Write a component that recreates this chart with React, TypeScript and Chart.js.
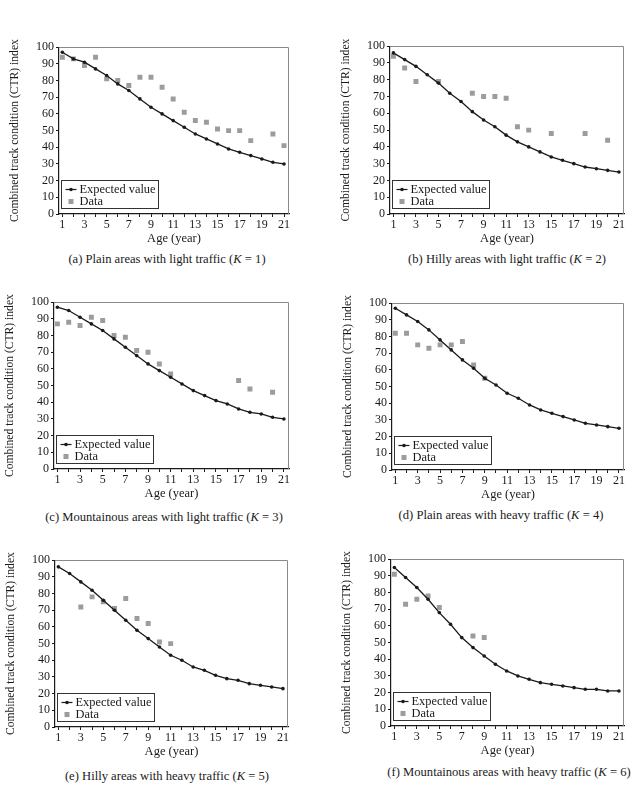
import React, { useEffect, useRef } from "react";
import { Chart, registerables } from "chart.js";

Chart.register(...registerables);

// Age axis (years) and tick labels
const AGES = [1, 2, 3, 4, 5, 6, 7, 8, 9, 10, 11, 12, 13, 14, 15, 16, 17, 18, 19, 20, 21];
const Y_TICKS = [0, 10, 20, 30, 40, 50, 60, 70, 80, 90, 100];

// (a) Plain areas with light traffic, K = 1
const expectedK1 = [97, 93, 91, 87, 83, 78, 74, 69, 64, 60, 56, 52, 48, 45, 42, 39, 37, 35, 33, 31, 30];
const observedK1 = [94, 93, 89, 94, 81, 80, 77, 82, 82, 76, 69, 61, 56, 55, 51, 50, 50, 44, null, 48, 41];

// (b) Hilly areas with light traffic, K = 2
const expectedK2 = [96, 92, 88, 83, 78, 72, 67, 61, 56, 52, 47, 43, 40, 37, 34, 32, 30, 28, 27, 26, 25];
const observedK2 = [94, 87, 79, null, 79, null, null, 72, 70, 70, 69, 52, 50, null, 48, null, null, 48, null, 44, null];

// (c) Mountainous areas with light traffic, K = 3
const expectedK3 = [97, 95, 91, 87, 83, 78, 73, 68, 63, 59, 55, 51, 47, 44, 41, 39, 36, 34, 33, 31, 30];
const observedK3 = [87, 88, 86, 91, 89, 80, 79, 71, 70, 63, 57, null, null, null, null, null, 53, 48, null, 46, null];

// (d) Plain areas with heavy traffic, K = 4
const expectedK4 = [97, 93, 89, 84, 78, 72, 66, 61, 55, 51, 46, 43, 39, 36, 34, 32, 30, 28, 27, 26, 25];
const observedK4 = [82, 82, 75, 73, 75, 75, 77, 63, 55, null, null, null, null, null, null, null, null, null, null, null, null];

// (e) Hilly areas with heavy traffic, K = 5
const expectedK5 = [96, 92, 87, 82, 76, 70, 64, 58, 53, 48, 43, 40, 36, 34, 31, 29, 28, 26, 25, 24, 23];
const observedK5 = [null, null, 72, 78, 75, 71, 77, 65, 62, 51, 50, null, null, null, null, null, null, null, null, null, null];

// (f) Mountainous areas with heavy traffic, K = 6
const expectedK6 = [95, 89, 83, 76, 68, 61, 53, 47, 42, 37, 33, 30, 28, 26, 25, 24, 23, 22, 22, 21, 21];
const observedK6 = [91, 73, 76, 78, 71, null, null, 54, 53, null, null, null, null, null, null, null, null, null, null, null, null];

const SERIES_LABELS = ["Expected value", "Data"];
const X_TITLE = "Age (year)";
const Y_TITLE = "Combined track condition (CTR) index";

type Panel = {
  tag: string;
  text: string;
  k: number;
  expected: number[];
  observed: (number | null)[];
  // plot-area rectangle on the page and caption centre
  plot: [number, number, number, number];
  cap: [number, number];
};

const PANELS: Panel[] = [
  { tag: "(a)", text: "Plain areas with light traffic", k: 1, expected: expectedK1, observed: observedK1, plot: [59, 47, 289, 214], cap: [167, 259] },
  { tag: "(b)", text: "Hilly areas with light traffic", k: 2, expected: expectedK2, observed: observedK2, plot: [390, 46, 624, 214], cap: [507, 259] },
  { tag: "(c)", text: "Mountainous areas with light traffic", k: 3, expected: expectedK3, observed: observedK3, plot: [54, 302, 289, 469], cap: [164, 517] },
  { tag: "(d)", text: "Plain areas with heavy traffic", k: 4, expected: expectedK4, observed: observedK4, plot: [392, 303, 624, 470], cap: [501, 515] },
  { tag: "(e)", text: "Hilly areas with heavy traffic", k: 5, expected: expectedK5, observed: observedK5, plot: [55, 560, 288, 727], cap: [167, 776] },
  { tag: "(f)", text: "Mountainous areas with heavy traffic", k: 6, expected: expectedK6, observed: observedK6, plot: [391, 559, 624, 726], cap: [509, 772] },
];

const FONT = "'Liberation Serif', 'Times New Roman', serif";
const INK = "#1a1a1a";
const DATA_GREY = "#9c9c9c";

const Y_AXIS_W = 51;
const X_AXIS_H = 32;
const PAD_T = 9;
const PAD_R = 9;

// Grey frame on the top/right edges plus the boxed legend in the lower-left corner
const framePlugin = {
  id: "frameAndLegend",
  afterDraw(chart: any) {
    const { ctx, chartArea } = chart;
    const { left, top, right, bottom } = chartArea;
    ctx.save();
    ctx.strokeStyle = "#8a8a8a";
    ctx.lineWidth = 1;
    ctx.beginPath();
    ctx.moveTo(left, Math.round(top) + 0.5);
    ctx.lineTo(Math.round(right) - 0.5, Math.round(top) + 0.5);
    ctx.lineTo(Math.round(right) - 0.5, bottom);
    ctx.stroke();

    const xs = chart.scales.x;
    const bw = 97;
    const bh = 28;
    const bx = Math.round(xs.getPixelForValue(1)) - 0.5;
    const by = Math.round(bottom - 6 - bh) + 0.5;
    ctx.fillStyle = "#fff";
    ctx.fillRect(bx, by, bw, bh);
    ctx.strokeStyle = "#333";
    ctx.strokeRect(bx, by, bw, bh);

    const ds = chart.data.datasets;
    const r1 = by + 9;
    const r2 = by + 21;
    ctx.strokeStyle = INK;
    ctx.lineWidth = 1.2;
    ctx.beginPath();
    ctx.moveTo(bx + 4, r1);
    ctx.lineTo(bx + 15, r1);
    ctx.stroke();
    ctx.fillStyle = INK;
    ctx.beginPath();
    ctx.arc(bx + 9.5, r1, 1.8, 0, Math.PI * 2);
    ctx.fill();
    ctx.fillStyle = DATA_GREY;
    ctx.fillRect(bx + 7, r2 - 2.5, 5, 5);

    ctx.fillStyle = INK;
    ctx.font = `12.4px ${FONT}`;
    ctx.textBaseline = "middle";
    ctx.textAlign = "left";
    ctx.fillText(ds[0].label, bx + 18, r1 + 0.5);
    ctx.fillText(ds[1].label, bx + 18, r2 + 0.5);
    ctx.restore();
  },
};

function PanelChart({ p }: { p: Panel }) {
  const ref = useRef<HTMLCanvasElement | null>(null);
  const [pl, pt, pr, pb] = p.plot;
  const w = Y_AXIS_W + (pr - pl) + PAD_R;
  const h = PAD_T + (pb - pt) + X_AXIS_H;

  useEffect(() => {
    if (!ref.current) return;
    const expectedPts = AGES.map((a, i) => ({ x: a, y: p.expected[i] }));
    const observedPts = AGES.map((a, i) => ({ x: a, y: p.observed[i] })).filter((d) => d.y !== null);
    const tickFont = { family: FONT, size: 12 };
    const chart = new Chart(ref.current, {
      type: "line",
      data: {
        datasets: [
          {
            label: SERIES_LABELS[0],
            data: expectedPts,
            borderColor: INK,
            borderWidth: 1.3,
            tension: 0,
            pointRadius: 1.8,
            pointBackgroundColor: INK,
            pointBorderWidth: 0,
            fill: false,
          },
          {
            label: SERIES_LABELS[1],
            data: observedPts as any,
            showLine: false,
            pointStyle: "rect",
            pointRadius: 3.5,
            pointBackgroundColor: DATA_GREY,
            pointBorderWidth: 0,
            backgroundColor: DATA_GREY,
            borderColor: DATA_GREY,
          },
        ],
      },
      options: {
        animation: false,
        responsive: false,
        devicePixelRatio: 1,
        layout: { padding: { top: PAD_T, right: PAD_R, left: 0, bottom: 0 } },
        plugins: { legend: { display: false }, tooltip: { enabled: false } },
        scales: {
          x: {
            type: "linear",
            min: 0.7,
            max: 21.45,
            afterBuildTicks: (s: any) => {
              s.ticks = AGES.map((v) => ({ value: v }));
            },
            afterFit: (s: any) => {
              s.height = X_AXIS_H;
            },
            ticks: {
              autoSkip: false,
              maxRotation: 0,
              padding: 1,
              color: INK,
              font: tickFont,
              callback: (v: any) => (Number(v) % 2 === 1 ? String(v) : ""),
            },
            grid: { drawOnChartArea: false, drawTicks: true, tickLength: 3, color: INK, lineWidth: 1 },
            border: { display: true, color: INK, width: 1.2 },
            title: { display: true, text: X_TITLE, color: INK, font: { family: FONT, size: 12.5 }, padding: 0 },
          },
          y: {
            type: "linear",
            min: 0,
            max: 100,
            afterBuildTicks: (s: any) => {
              s.ticks = Y_TICKS.map((v) => ({ value: v }));
            },
            afterFit: (s: any) => {
              s.width = Y_AXIS_W;
            },
            ticks: { autoSkip: false, padding: 2, color: INK, font: tickFont },
            grid: { drawOnChartArea: false, drawTicks: true, tickLength: 3, color: INK, lineWidth: 1 },
            border: { display: true, color: INK, width: 1.2 },
            title: { display: true, text: Y_TITLE, color: INK, font: { family: FONT, size: 11.6 }, padding: 0 },
          },
        },
      },
      plugins: [framePlugin],
    });
    return () => chart.destroy();
  }, [p]);

  return (
    <>
      <canvas
        ref={ref}
        width={w}
        height={h}
        style={{ position: "absolute", left: pl - Y_AXIS_W, top: pt - PAD_T, width: w, height: h }}
      />
      <div
        style={{
          position: "absolute",
          left: p.cap[0] - 160,
          top: p.cap[1] - 8,
          width: 320,
          lineHeight: "16px",
          textAlign: "center",
          fontFamily: FONT,
          fontSize: 12.6,
          color: INK,
          whiteSpace: "nowrap",
        }}
      >
        {p.tag} {p.text} (<i>K</i> = {p.k})
      </div>
    </>
  );
}

export default function App() {
  return (
    <div style={{ position: "absolute", left: 0, top: 0, width: 634, height: 788, background: "#fff", overflow: "hidden" }}>
      {PANELS.map((p) => (
        <PanelChart key={p.tag} p={p} />
      ))}
    </div>
  );
}
